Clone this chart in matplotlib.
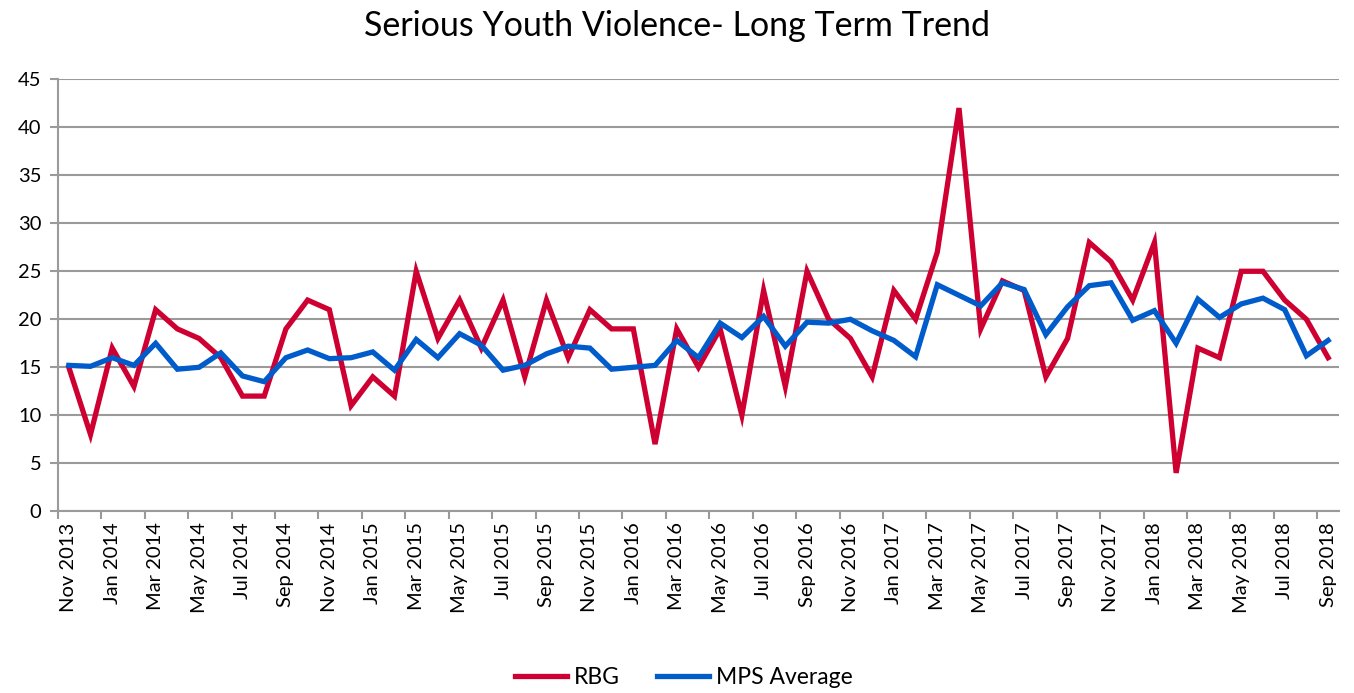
import matplotlib
matplotlib.use("Agg")
import matplotlib.pyplot as plt
import numpy as np
import pandas as pd

# --- Data -------------------------------------------------------------------

months = pd.date_range("2013-11-01", periods=59, freq="MS").strftime("%b %Y").tolist()

rbg = [15, 8, 17, 13, 21, 19, 18, 16, 12, 12,
       19, 22, 21, 11, 14, 12, 25, 18, 22, 17,
       22, 14, 22, 16, 21, 19, 19, 7, 19, 15,
       19, 10, 23, 13, 25, 20, 18, 14, 23, 20,
       27, 42, 19, 24, 23, 14, 18, 28, 26, 22,
       28, 4, 17, 16, 25, 25, 22, 20, 16]

mps_avg = [15.2, 15.1, 16.0, 15.2, 17.5, 14.8, 15.0, 16.5, 14.1, 13.5,
           16.0, 16.8, 15.9, 16.0, 16.6, 14.7, 17.9, 16.0, 18.5, 17.3,
           14.7, 15.2, 16.4, 17.2, 17.0, 14.8, 15.0, 15.2, 17.8, 16.0,
           19.6, 18.1, 20.3, 17.2, 19.7, 19.6, 20.0, 18.8, 17.8, 16.1,
           23.6, 22.5, 21.4, 23.8, 23.1, 18.4, 21.3, 23.5, 23.8, 19.9,
           20.9, 17.5, 22.1, 20.2, 21.6, 22.2, 21.0, 16.2, 17.8]

RED = "#CE0032"
BLUE = "#005BCB"
GRID = "#9a9a9a"

plt.rcParams["font.family"] = ["Lato", "DejaVu Sans"]

fig = plt.figure(figsize=(13.54, 6.93), dpi=100)
ax = fig.add_axes([0.0428, 0.2622, 0.9461, 0.6234])

x = np.arange(len(months))
ax.plot(x, rbg, color=RED, linewidth=3.8, label="RBG", solid_joinstyle="miter")
ax.plot(x, mps_avg, color=BLUE, linewidth=3.8, label="MPS Average", solid_joinstyle="miter")

ax.set_xlim(-0.5, len(months) - 0.5)
ax.set_ylim(0, 45)
ax.set_yticks(np.arange(0, 46, 5))
ax.grid(axis="y", color=GRID, linewidth=1.5)
ax.set_axisbelow(True)

# category axis: ticks on boundaries, labels every second month
ax.set_xticks(np.arange(-0.5, len(months) - 0.5, 2))
ax.set_xticklabels([])
ax.set_xticks(x[::2], minor=True)
ax.set_xticklabels(months[::2], minor=True, rotation=90, fontsize=14.5)
ax.tick_params(axis="x", which="major", length=6, width=1.5, color=GRID, direction="out")
ax.tick_params(axis="x", which="minor", length=0, pad=8)
ax.tick_params(axis="y", length=6, width=1.5, color=GRID, pad=6, labelsize=14.5)

for side in ["top", "right"]:
    ax.spines[side].set_visible(False)
for side in ["left", "bottom"]:
    ax.spines[side].set_color(GRID)
    ax.spines[side].set_linewidth(1.5)

fig.suptitle("Serious Youth Violence- Long Term Trend", fontsize=24.5, y=0.985)

fig.legend(loc="lower center", ncol=2, frameon=False, fontsize=16.5,
           bbox_to_anchor=(0.505, -0.022), handlelength=2.3, handletextpad=0.3,
           columnspacing=1.6)

fig.savefig("out.png", dpi=100)
